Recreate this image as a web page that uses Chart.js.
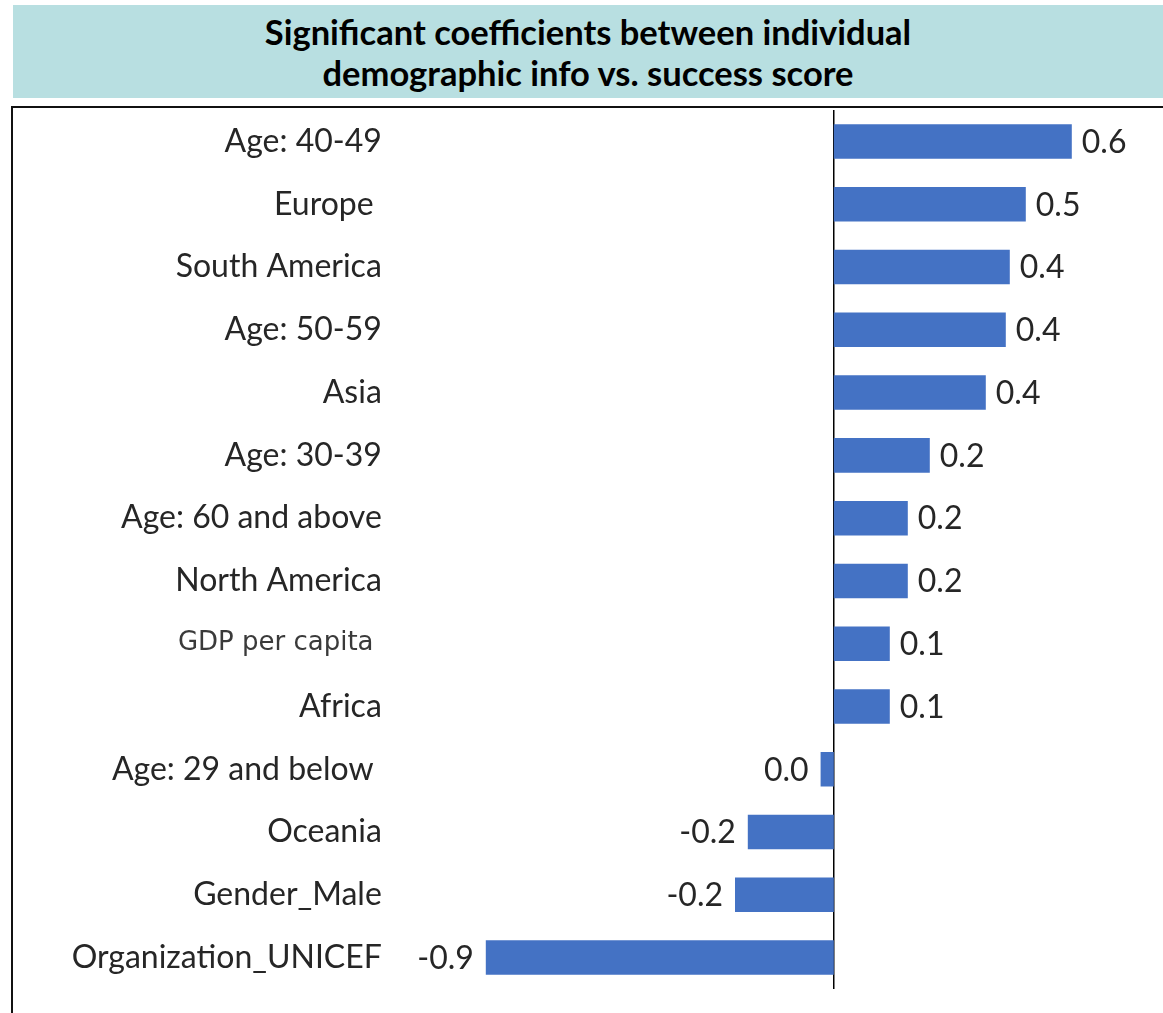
<!DOCTYPE html>
<html>
<head>
<meta charset="utf-8">
<script src="https://cdn.jsdelivr.net/npm/chart.js@4/dist/chart.umd.min.js"></script>
<style>
  html, body { margin: 0; padding: 0; background: #ffffff; }
  #wrap { position: relative; width: 1163px; height: 1013px; overflow: hidden; background: #ffffff; }
  #title {
    position: absolute; left: 13px; top: 5px; width: 1150px; height: 93px;
    background: #b8dfe1; display: flex; align-items: center; justify-content: center;
    text-align: center; font-family: Lato, "Open Sans", sans-serif; font-weight: bold;
    font-size: 34.5px; line-height: 41px; color: #000;
  }
  #frame {
    position: absolute; left: 11px; top: 106px; width: 1170px; height: 930px;
    border-left: 2px solid #111; border-top: 2px solid #111;
  }
  #chart { position: absolute; left: 0; top: 0; }
</style>
</head>
<body>
<div id="wrap">
  <div id="frame"></div>
  <div id="title">Significant coefficients between individual<br>demographic info vs. success score</div>
  <canvas id="chart" width="1163" height="1013"></canvas>
</div>
<script>
const categories = [
  'Age: 40-49', 'Europe ', 'South America', 'Age: 50-59', 'Asia', 'Age: 30-39',
  'Age: 60 and above', 'North America', 'GDP per capita ', 'Africa',
  'Age: 29 and below ', 'Oceania', 'Gender_Male', 'Organization_UNICEF'
];
const coefficients = [0.595, 0.48, 0.44, 0.43, 0.38, 0.24, 0.185, 0.185, 0.14, 0.14, -0.033, -0.215, -0.247, -0.87];
const valueLabels = ['0.6', '0.5', '0.4', '0.4', '0.4', '0.2', '0.2', '0.2', '0.1', '0.1', '0.0', '-0.2', '-0.2', '-0.9'];
const xMin = -1.0;
const xMax = 0.7;

const valueLabelPlugin = {
  id: 'valueLabels',
  afterDatasetsDraw(chart) {
    const ctx = chart.ctx;
    const meta = chart.getDatasetMeta(0);
    ctx.save();
    ctx.font = '32px Lato';
    ctx.fillStyle = '#262626';
    ctx.textBaseline = 'middle';
    meta.data.forEach((bar, i) => {
      const v = coefficients[i];
      if (v >= 0) {
        ctx.textAlign = 'left';
        ctx.fillText(valueLabels[i], bar.x + 10, bar.y + 1);
      } else {
        ctx.textAlign = 'right';
        ctx.fillText(valueLabels[i], bar.x - 12, bar.y + 1);
      }
    });
    ctx.restore();
  }
};

new Chart(document.getElementById('chart'), {
  type: 'bar',
  data: {
    labels: categories,
    datasets: [{
      data: coefficients,
      backgroundColor: '#4472c4',
      borderWidth: 0,
      categoryPercentage: 1.0,
      barPercentage: 0.55
    }]
  },
  options: {
    indexAxis: 'y',
    responsive: false,
    animation: false,
    devicePixelRatio: 1,
    layout: { padding: { left: 0, right: 49.2, top: 110.1, bottom: 24 } },
    plugins: { legend: { display: false }, title: { display: false }, tooltip: { enabled: false } },
    scales: {
      x: {
        min: xMin, max: xMax,
        ticks: { display: false, stepSize: 0.1 },
        border: { display: false },
        grid: {
          drawTicks: false,
          color: (c) => (c.tick && Math.abs(c.tick.value) < 1e-9) ? '#000000' : 'rgba(0,0,0,0)',
          lineWidth: 1.5
        },
        afterFit: (s) => { s.height = 0; s.paddingLeft = 0; s.paddingRight = 0; }
      },
      y: {
        border: { display: false },
        grid: { display: false, drawTicks: false },
        ticks: {
          autoSkip: false,
          padding: 52,
          color: (c) => c.index === 8 ? '#3a3a3a' : '#262626',
          font: (c) => c.index === 8 ? { family: 'DejaVu Sans', size: 26 } : { family: 'Lato', size: 32 }
        },
        afterFit: (s) => { s.width = 433.8; s.paddingTop = 0; s.paddingBottom = 0; }
      }
    }
  },
  plugins: [valueLabelPlugin]
});
</script>
</body>
</html>
